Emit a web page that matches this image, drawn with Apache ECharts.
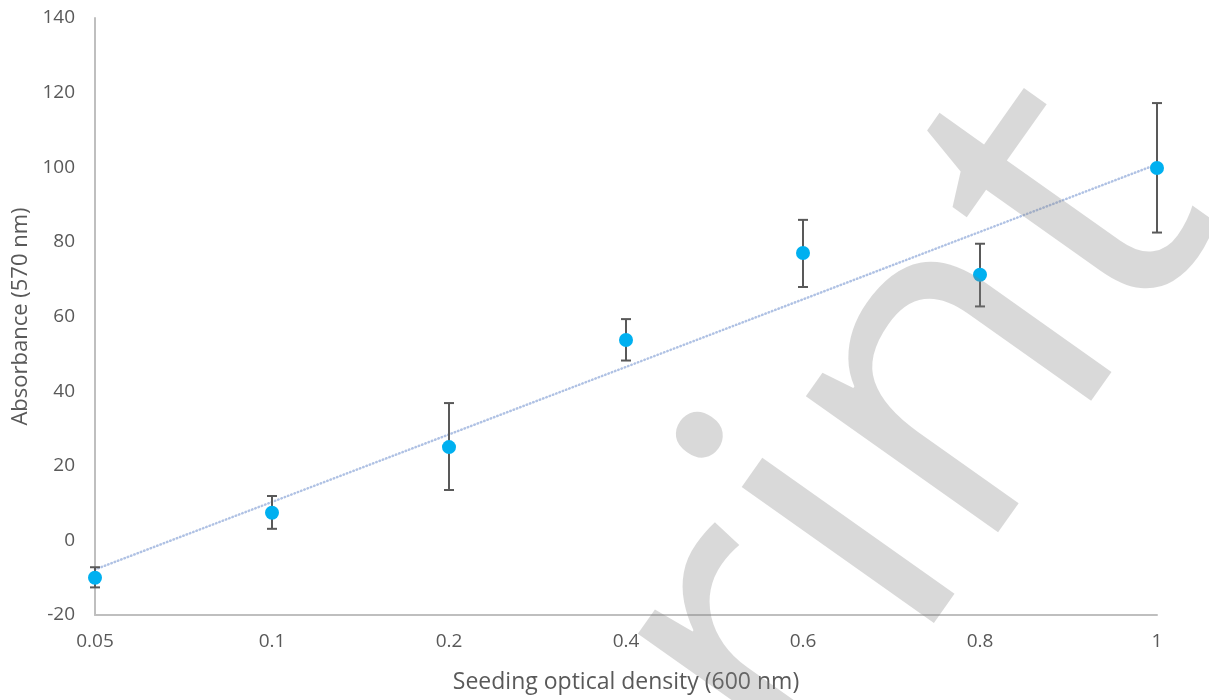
<!DOCTYPE html>
<html lang="en">
<head>
    <meta charset="UTF-8">
    <title>Absorbance vs seeding optical density</title>
    <script src="https://cdn.jsdelivr.net/npm/echarts/dist/echarts.min.js"></script>
    <style>
        html, body { margin: 0; padding: 0; background: #fff; }
    </style>
</head>
<body>
    <div id="main" style="width: 1209px;height:700px;"></div>
    <script>
        // seeding OD (categories on x)
        const odLabels = ['0.05', '0.1', '0.2', '0.4', '0.6', '0.8', '1'];
        // mean absorbance per OD
        const absMean = [-10.0, 7.4, 25.0, 53.7, 77.0, 71.2, 99.8];
        // error bar ends
        const errLow = [-12.6, 3.1, 13.5, 48.2, 67.9, 62.7, 82.5];
        const errHigh = [-7.2, 11.9, 36.8, 59.3, 85.9, 79.5, 117.2];
        // linear trendline, read at first and last category
        const trendEnds = [-7.8, 100.8];

        const yTicks = { min: -20, max: 140, step: 20 };

        var chart = echarts.init(document.getElementById('main'));

        const font = '"Open Sans", "Noto Sans", sans-serif';
        const labelGrey = '#595959';

        const errData = odLabels.map((_, i) => [i, errLow[i], errHigh[i]]);
        const trendData = [[0, trendEnds[0]], [odLabels.length - 1, trendEnds[1]]];

        var option = {
            animation: false,
            grid: {
                left: 95,
                right: 52,
                top: 18,
                bottom: 85
            },
            xAxis: {
                type: 'category',
                data: odLabels,
                boundaryGap: false,
                name: 'Seeding optical density (600 nm)',
                nameLocation: 'middle',
                nameGap: 56,
                nameTextStyle: { color: labelGrey, fontSize: 23, fontFamily: font },
                axisLine: { onZero: false, lineStyle: { color: '#bfbfbf', width: 2 } },
                axisTick: { show: false },
                axisLabel: { color: labelGrey, fontSize: 19, fontFamily: font, margin: 17 },
                splitLine: { show: false }
            },
            yAxis: {
                type: 'value',
                min: yTicks.min,
                max: yTicks.max,
                interval: yTicks.step,
                name: 'Absorbance (570 nm)',
                nameLocation: 'middle',
                nameGap: 59,
                nameTextStyle: { color: labelGrey, fontSize: 22, fontFamily: font },
                axisLine: { show: true, lineStyle: { color: '#bfbfbf', width: 2 } },
                axisTick: { show: false },
                axisLabel: { color: labelGrey, fontSize: 19, fontFamily: font, margin: 20 },
                splitLine: { show: false }
            },
            series: [
                {
                    name: 'Trend',
                    type: 'line',
                    data: trendData,
                    symbol: 'none',
                    lineStyle: { color: '#b0c2e4', width: 2.5, type: [0.5, 3], cap: 'round' },
                    z: 1
                },
                {
                    name: 'Error',
                    type: 'custom',
                    data: errData,
                    z: 2,
                    renderItem: function (params, api) {
                        const x = api.value(0);
                        const lo = api.coord([x, api.value(1)]);
                        const hi = api.coord([x, api.value(2)]);
                        const w = 5;
                        const style = { stroke: '#595959', lineWidth: 2, fill: null };
                        return {
                            type: 'group',
                            children: [
                                { type: 'line', shape: { x1: hi[0], y1: hi[1], x2: lo[0], y2: lo[1] }, style: style },
                                { type: 'line', shape: { x1: hi[0] - w, y1: hi[1], x2: hi[0] + w, y2: hi[1] }, style: style },
                                { type: 'line', shape: { x1: lo[0] - w, y1: lo[1], x2: lo[0] + w, y2: lo[1] }, style: style }
                            ]
                        };
                    }
                },
                {
                    name: 'Absorbance',
                    type: 'scatter',
                    data: absMean,
                    symbolSize: 14,
                    itemStyle: { color: '#00b0f0', opacity: 1 },
                    z: 3
                }
            ],
            graphic: [
                {
                    // watermark over the plot
                    type: 'text',
                    x: 706,
                    y: 728,
                    rotation: 0.955,
                    silent: true,
                    z: 100,
                    style: {
                        text: 'rint',
                        font: '440px "Open Sans", sans-serif',
                        fill: 'rgba(128,128,128,0.3)',
                        align: 'left',
                        verticalAlign: 'middle'
                    }
                }
            ]
        };

        chart.setOption(option);
    </script>
</body>
</html>
